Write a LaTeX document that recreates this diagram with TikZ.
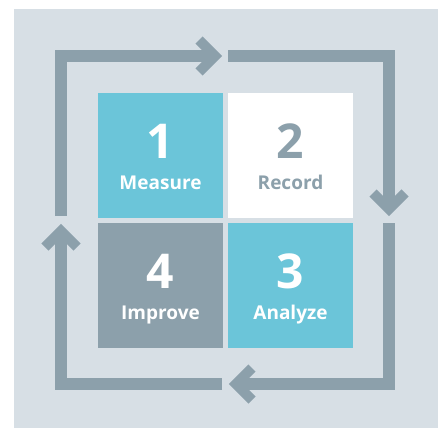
\documentclass[tikz,border=0pt]{standalone}
\usepackage{fontspec}
\setmainfont{Open Sans}
\definecolor{panelbg}{HTML}{D7DFE5}
\definecolor{cyclegray}{HTML}{8CA0AB}
\definecolor{stepteal}{HTML}{6BC5D9}

\tikzset{
  box/.style={minimum size=125pt, inner sep=0pt, outer sep=0pt},
  num/.style={anchor=base, font=\bfseries\fontsize{48}{48}\selectfont},
  lab/.style={anchor=base, font=\bfseries\fontsize{19}{19}\selectfont},
  cyclepath/.style={draw=cyclegray, line width=12pt, line join=miter},
  chev/.style={draw=cyclegray, line width=10pt, line join=miter},
}

\begin{document}
\begin{tikzpicture}[x=1pt, y=-1pt]
\useasboundingbox (0,0) rectangle (438,428);
\fill[panelbg] (14,9) rectangle (438,428);

% the four steps
\node[box, fill=stepteal] (measure) at (160.5,155.5) {};
\node[box, fill=white] (record) at (290.5,155.5) {};
\node[box, fill=stepteal] (analyze) at (290.5,285.5) {};
\node[box, fill=cyclegray] (improve) at (160.5,285.5) {};
\node[num, text=white] (n1) at (160.5,158) {1};
\node[lab, text=white] (l1) at (160.5,189) {Measure};
\node[num, text=cyclegray] (n2) at (290.5,158) {2};
\node[lab, text=cyclegray] (l2) at (290.5,189) {Record};
\node[num, text=white] (n3) at (290.5,288) {3};
\node[lab, text=white] (l3) at (290.5,319) {Analyze};
\node[num, text=white] (n4) at (160.5,288) {4};
\node[lab, text=white] (l4) at (160.5,319) {Improve};

% the cycle round them
\coordinate (s1) at (61,216);  \coordinate (t1) at (215,56);
\coordinate (s2) at (228,56);  \coordinate (t2) at (389,209);
\coordinate (s3) at (389,223); \coordinate (t3) at (236,384);
\coordinate (s4) at (222,384); \coordinate (t4) at (61,231);
\draw[cyclepath] (s1) |- (t1);
\draw[cyclepath] (s2) -| (t2);
\draw[cyclepath] (s3) |- (t3);
\draw[cyclepath] (s4) -| (t4);
\draw[chev] ([shift={(-16,-16)}]t1) -- (t1) -- ([shift={(-16,16)}]t1);
\draw[chev] ([shift={(-16,-16)}]t2) -- (t2) -- ([shift={(16,-16)}]t2);
\draw[chev] ([shift={(16,-16)}]t3) -- (t3) -- ([shift={(16,16)}]t3);
\draw[chev] ([shift={(-16,16)}]t4) -- (t4) -- ([shift={(16,16)}]t4);
\end{tikzpicture}
\end{document}
